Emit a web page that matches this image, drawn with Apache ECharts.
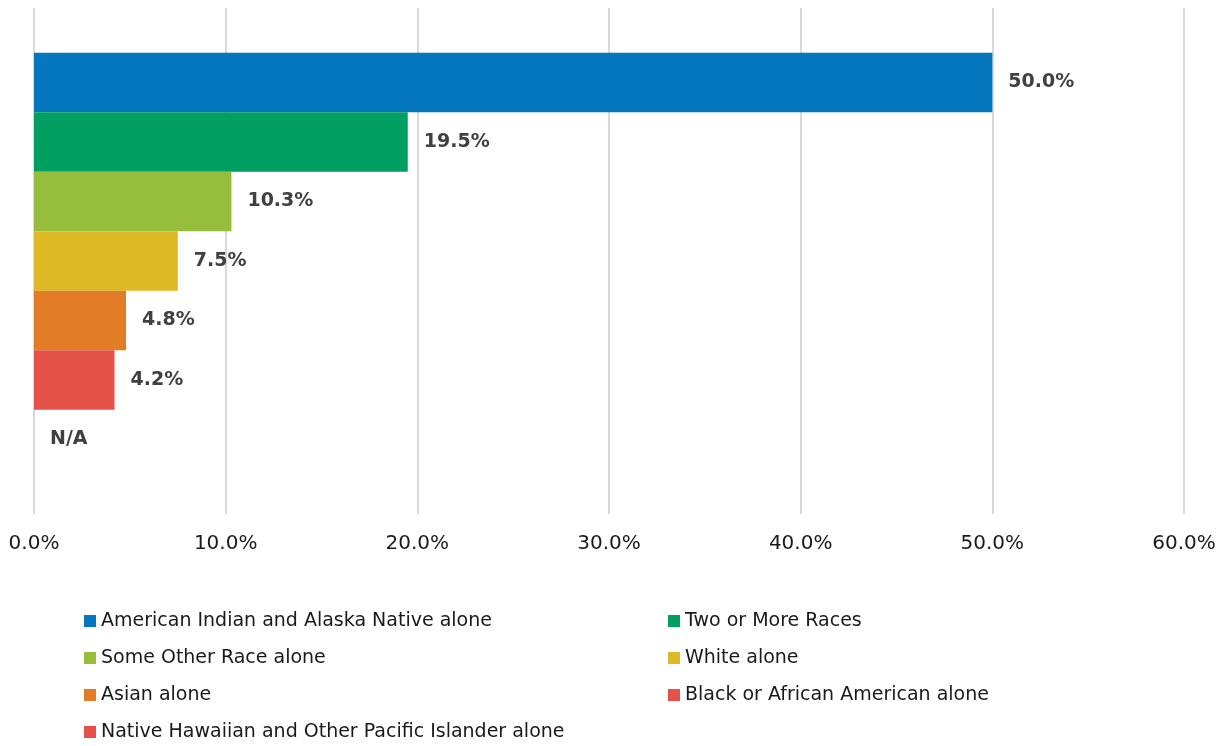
<!DOCTYPE html>
<html>
<head>
<meta charset="utf-8">
<script src="https://cdn.jsdelivr.net/npm/echarts@6/dist/echarts.min.js"></script>
<style>
  html, body { margin: 0; padding: 0; background: #fff; }
  #chart { width: 1228px; height: 746px; }
</style>
</head>
<body>
<div id="chart"></div>
<script>
// Share of population by race (single category, one series per group)
const groups = [
  'American Indian and Alaska Native alone',
  'Two or More Races',
  'Some Other Race alone',
  'White alone',
  'Asian alone',
  'Black or African American alone',
  'Native Hawaiian and Other Pacific Islander alone'
];
const shares = [50.0, 19.5, 10.3, 7.5, 4.8, 4.2, null]; // null = not available
const colors = ['#0477BF', '#009E60', '#97BD3D', '#DEB926', '#E37C26', '#E4524A', '#E4524A'];
const xTicks = [0, 10, 20, 30, 40, 50, 60];

const FONT = 'DejaVu Sans';

const series = groups.map((name, i) => ({
  name: name,
  type: 'bar',
  barGap: '0%',
  barCategoryGap: '17.7%',
  itemStyle: { color: colors[i] },
  data: [shares[i] === null ? 0 : shares[i]],
  label: {
    show: true,
    position: 'right',
    distance: 16,
    fontFamily: FONT,
    fontSize: 19,
    fontWeight: 'bold',
    color: '#404040',
    formatter: () => shares[i] === null ? 'N/A' : shares[i].toFixed(1) + '%'
  }
}));

const legendText = { fontFamily: FONT, fontSize: 19, color: '#1a1a1a', lineHeight: 20 };
const legendBase = {
  orient: 'vertical',
  top: 611,
  height: 135,
  padding: 0,
  itemWidth: 12,
  itemHeight: 12,
  itemGap: 17,
  icon: 'rect',
  textStyle: legendText
};

const chart = echarts.init(document.getElementById('chart'), null, { renderer: 'canvas' });
chart.setOption({
  animation: false,
  backgroundColor: '#fff',
  grid: { left: 34, right: 44, top: 8, bottom: 232, containLabel: false },
  xAxis: {
    type: 'value',
    min: xTicks[0],
    max: xTicks[xTicks.length - 1],
    interval: 10,
    axisLine: { show: false },
    axisTick: { show: false },
    splitLine: { lineStyle: { color: '#d9d9d9', width: 2 } },
    axisLabel: {
      margin: 20,
      fontFamily: FONT,
      fontSize: 20,
      color: '#1a1a1a',
      formatter: v => v.toFixed(1) + '%'
    }
  },
  yAxis: {
    type: 'category',
    data: [''],
    inverse: true,
    axisLine: { show: false },
    axisTick: { show: false },
    axisLabel: { show: false }
  },
  legend: [
    Object.assign({}, legendBase, {
      left: 84,
      data: [groups[0], groups[2], groups[4], groups[6]]
    }),
    Object.assign({}, legendBase, {
      left: 668,
      data: [groups[1], groups[3], groups[5]]
    })
  ],
  series: series
});
</script>
</body>
</html>
